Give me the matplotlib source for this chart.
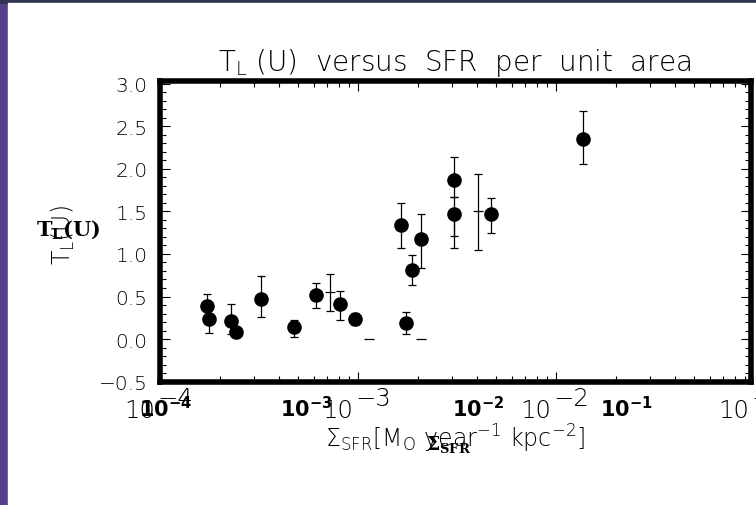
import matplotlib
matplotlib.use('Agg')
import matplotlib.pyplot as plt
from matplotlib.patches import Rectangle
from matplotlib.ticker import FixedLocator, LogLocator, MultipleLocator, NullFormatter

W, H = 756, 506
THIN = 'DejaVu Sans'
plt.rcParams['font.family'] = [THIN]
plt.rcParams['font.weight'] = 'light'
plt.rcParams['mathtext.fontset'] = 'custom'
plt.rcParams['mathtext.rm'] = 'DejaVu Sans:light'
plt.rcParams['mathtext.it'] = 'DejaVu Sans:light'
plt.rcParams['mathtext.tt'] = 'Liberation Mono:bold'
plt.rcParams['mathtext.bf'] = 'DejaVu Serif:bold'
plt.rcParams['mathtext.sf'] = 'DejaVu Sans:bold'

# ---- data (SFR surface density vs T_L(U)) ----
sfr = [1.73e-4, 1.77e-4, 2.28e-4, 2.41e-4, 3.22e-4, 4.77e-4, 6.13e-4, 8.11e-4,
       9.62e-4, 1.65e-3, 1.74e-3, 1.87e-3, 2.07e-3, 3.06e-3, 3.06e-3, 4.70e-3, 1.37e-2]
tl = [0.385, 0.235, 0.215, 0.086, 0.465, 0.137, 0.518, 0.41,
      0.235, 1.34, 0.19, 0.815, 1.17, 1.87, 1.47, 1.47, 2.35]
tl_lo = [0.145, 0.165, 0.155, 0.03, 0.205, 0.107, 0.158, 0.19,
         0.075, 0.27, 0.13, 0.185, 0.335, 0.20, 0.40, 0.23, 0.29]
tl_hi = [0.145, 0.165, 0.195, 0.03, 0.275, 0.083, 0.142, 0.15,
         0.075, 0.26, 0.13, 0.175, 0.30, 0.27, 0.20, 0.19, 0.33]

# error bars drawn without a symbol
bar_sfr = [7.25e-4, 4.04e-3, 3.06e-3]
bar_tl = [0.55, 1.50, 1.47]
bar_lo = [0.22, 0.45, 0.26]
bar_hi = [0.22, 0.44, 0.0]

# points at zero without symbol
zero_sfr = [1.14e-3, 2.09e-3]
zero_tl = [0.0, 0.0]

xtick_vals = [1e-4, 1e-3, 1e-2, 1e-1]
xtick_exps = ['\u22124', '\u22123', '\u22122', '\u22121']
ytick_vals = [-0.5, 0.0, 0.5, 1.0, 1.5, 2.0, 2.5, 3.0]
ytick_labels = ['\u22120.5', '0.0', '0.5', '1.0', '1.5', '2.0', '2.5', '3.0']
overlay_xlabels = [r'$\mathbf{10^{-4}}$', r'$\mathbf{10^{-3}}$',
                   r'$\mathbf{10^{-2}}$', r'$\mathbf{10^{-1}}$']


def fx(px):
    return px / W


def fy(py):
    return 1 - py / H


fig = plt.figure(figsize=(W / 100, H / 100), dpi=100, facecolor='#56408a')
fig.patches.append(Rectangle((0, fy(4)), 1, 4 / H, transform=fig.transFigure,
                             color='#2f3553', zorder=-2))
fig.patches.append(Rectangle((fx(8), 0), 1 - fx(8), fy(4), transform=fig.transFigure,
                             color='white', zorder=-1))

ax = fig.add_axes([fx(160), fy(382.7), (751 - 160) / W, (382.7 - 82) / H])
ax.set_facecolor('white')
ax.set_xscale('log')
ax.set_xlim(1e-4, 10 ** (-1 - 3 / 198))
ax.set_ylim(-0.5, 3.03)
for s in ax.spines.values():
    s.set_linewidth(4)

ax.xaxis.set_major_locator(FixedLocator(xtick_vals))
ax.xaxis.set_minor_locator(LogLocator(base=10, subs=range(2, 10)))
ax.xaxis.set_major_formatter(NullFormatter())
ax.xaxis.set_minor_formatter(NullFormatter())
ax.yaxis.set_major_locator(FixedLocator(ytick_vals))
ax.yaxis.set_minor_locator(MultipleLocator(0.1))
ax.set_yticklabels(ytick_labels, fontsize=14.5)
ax.tick_params(which='both', direction='in', top=True, right=True, width=0.8,
               color='black')
ax.tick_params(which='major', length=7.5, pad=9)
ax.tick_params(which='minor', length=4.5)

ax.errorbar(sfr, tl, yerr=[tl_lo, tl_hi], fmt='o', ms=9.5, color='black',
            ecolor='black', elinewidth=0.9, capsize=3, capthick=0.9, zorder=3)
ax.errorbar(bar_sfr, bar_tl, yerr=[bar_lo, bar_hi], fmt='_', ms=6.5, mew=0.9,
            color='black', ecolor='black', elinewidth=0.9, capsize=3,
            capthick=0.9, zorder=3)
ax.plot(zero_sfr, zero_tl, '_', ms=6.5, mew=0.9, color='black', zorder=3)

# IDL-style x tick labels (10 with full-size raised exponent)
for v, e in zip(xtick_vals, xtick_exps):
    ax.annotate('10', xy=(v, 0), xycoords=('data', 'axes fraction'),
                xytext=(-5, -35), textcoords='offset pixels', ha='right',
                va='baseline', fontsize=17.5, annotation_clip=False)
    ax.annotate(e, xy=(v, 0), xycoords=('data', 'axes fraction'),
                xytext=(-3, -23.5), textcoords='offset pixels', ha='left',
                va='baseline', fontsize=17.5, annotation_clip=False)

fig.text(fx(455), fy(71), r'T$_\mathrm{L}$ (U)  versus  SFR  per  unit  area',
         ha='center', va='baseline', fontsize=20)
fig.text(fx(455), fy(448),
         r'$\Sigma_\mathrm{SFR}[\mathrm{M_O\ year^{-1}\ kpc^{-2}}]$',
         ha='center', va='baseline', fontsize=17)
fig.text(fx(63), fy(235), r'T$_\mathrm{L}$(U)', rotation=90, ha='center',
         va='center', fontsize=17)

# overlaid bold labels
for px, lab in zip([166, 306, 478, 626], overlay_xlabels):
    fig.text(fx(px), fy(409), lab, math_fontfamily='dejavusans', fontsize=15,
             ha='center', va='center')
fig.text(fx(449), fy(445), r'$\mathbf{\Sigma_{SFR}}$', math_fontfamily='dejavuserif',
         fontsize=13.5, ha='center', va='center')
fig.text(fx(68), fy(230), r'$\mathbf{T_L(U)}$', math_fontfamily='dejavuserif',
         fontsize=15, ha='center', va='center')

fig.savefig('out.png', dpi=100, facecolor=fig.get_facecolor())
